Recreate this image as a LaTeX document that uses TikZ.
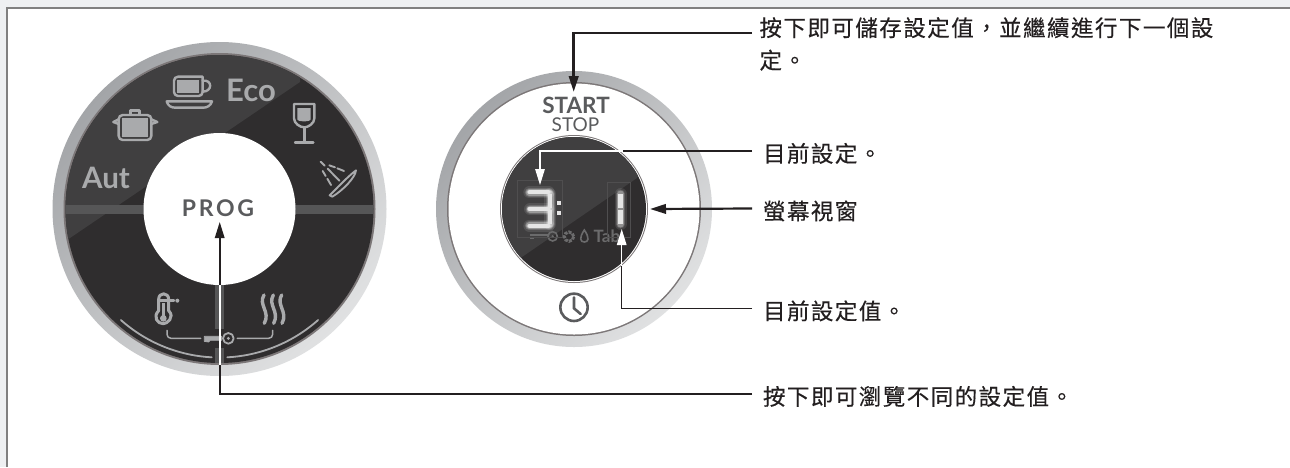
\documentclass[tikz,border=0pt]{standalone}
\usepackage{fontspec}
\usepackage{xcolor}
\usetikzlibrary{arrows.meta}
\newfontfamily\cjkfont[LetterSpace=6.5,FakeBold=0.25]{Noto Sans CJK TC}
\newfontfamily\dialfont{Lato}
\newfontfamily\progfont[LetterSpace=12]{Lato}
\definecolor{inkblack}{HTML}{231F20}
\definecolor{dialdark}{HTML}{2F2D2E}
\definecolor{dialglare}{HTML}{403F40}
\definecolor{dialband}{HTML}{565657}
\definecolor{iconGray}{HTML}{A9AAAC}
\definecolor{printGray}{HTML}{5A5B5D}
\definecolor{faintGray}{HTML}{6B6B6C}
\definecolor{ringDark}{HTML}{A3A5A8}
\definecolor{ringLight}{HTML}{E0E1E2}
\definecolor{ringEdge}{HTML}{7C7778}
\definecolor{pageBand}{HTML}{EEF0F2}
\tikzset{
  note/.style={anchor=west,inner sep=0pt,outer xsep=11pt,font=\cjkfont\fontsize{22.5}{32.5}\selectfont,text=inkblack},
  onerow/.style={text height=26pt,text depth=4pt},
  icon/.style={draw=iconGray,line width=2.4pt,line cap=round,line join=round},
  fainticon/.style={draw=faintGray,line width=1.6pt},
  leader/.style={draw=inkblack,line width=#1},
  tip/.style={-{Triangle[length=16pt,width=9.5pt]}},
}
\begin{document}
\begin{tikzpicture}[x=1pt,y=1pt,yscale=-1]
  \def\xl{219.5}
  \def\xr{574}
  \def\yc{209}
  \useasboundingbox (0,0) rectangle (1290,467);
  \fill[white] (0,0) rectangle (1290,467);
  % page edge
  \fill[pageBand] (0,0) rectangle (1290,7);
  \fill[pageBand] (0,0) rectangle (6,467);
  \draw[gray,line width=2pt] (7,467) -- (7,8) -- (1290,8);

  % left dial
  \shade[top color=ringDark,bottom color=ringLight,shading angle=45] (\xl,\yc) circle (167);
  \fill[ringEdge] (\xl,\yc) circle (156);
  \fill[dialdark] (\xl,\yc) circle (154);
  \begin{scope}
    \clip (\xl,\yc) circle (154);
    \fill[dialglare] (70,238) -- (300,82) -- (300,40) -- (40,40) -- (40,258) -- cycle;
    \fill[dialband] (60,205) rectangle (380,213.5);
    \fill[dialband] (215,280) rectangle (224,329);
    \fill[dialband] (215,348) rectangle (224,363);
  \end{scope}
  \fill[white] (\xl,\yc) circle (76);
  \draw[icon,line width=1.8pt] ({\xl+148.5*cos(131.6)},{\yc+148.5*sin(131.6)}) arc (131.6:93:148.5);
  \draw[icon,line width=1.8pt] ({\xl+148.5*cos(87)},{\yc+148.5*sin(87)}) arc (87:48.4:148.5);

  \node[text=iconGray,font=\dialfont\bfseries\fontsize{29.5}{28}\selectfont,inner sep=0pt] (autlabel) at (106,178) {Aut};
  \node[text=iconGray,font=\dialfont\bfseries\fontsize{31}{28}\selectfont,inner sep=0pt] (ecolabel) at (251,90) {Eco};
  \node[text=printGray,font=\progfont\bfseries\fontsize{23}{23}\selectfont,inner sep=0pt] (proglabel) at (218,208.5) {PROG};

  % icons, traced on the 3x grid
  \begin{scope}[shift={(30,40)},scale=1/3]
    % cup
    \fill[iconGray] (442,120) rectangle (508,158);
    \draw[icon] (432,110) -- (518,110) -- (518,155) [rounded corners=4pt] -- (518,168) -- (432,168) -- cycle;
    \draw[icon] (518,122) .. controls (548,118) and (548,155) .. (518,155);
    \draw[icon] (410,184) -- (546,184) .. controls (542,198) and (530,203) .. (520,203) -- (436,203) .. controls (424,203) and (414,198) .. cycle;
    % pot
    \fill[iconGray] (275,235) rectangle (355,292);
    \draw[icon,rounded corners=4pt] (266,225) rectangle (364,300);
    \draw[icon] (266,238) -- (250,246) -- (266,252);
    \draw[icon] (364,238) -- (382,246) -- (364,252);
    \draw[icon] (302,222) -- (302,211) -- (328,211) -- (328,222);
  \end{scope}
  \begin{scope}[shift={(280,90)},scale=1/3]
    % glass
    \fill[iconGray] (52,54) -- (92,54) -- (92,88) .. controls (92,96) and (52,96) .. (52,88) -- cycle;
    \draw[icon] (42,42) -- (103,42) -- (103,85) .. controls (103,100) and (85,112) .. (73,112) .. controls (60,112) and (42,100) .. (42,85) -- cycle;
    \draw[icon] (73,112) -- (73,157);
    \draw[icon] (45,157) -- (100,157);
    % spray
    \draw[icon,line width=1.9pt] (228,241) .. controls (226,262) and (190,300) .. (157,320) -- (149,316) .. controls (165,300) and (205,258) .. cycle;
    \draw[icon,line width=1.9pt] (148,226) -- (165,232);
    \draw[icon,line width=1.9pt] (172,235) -- (192,243);
    \draw[icon,line width=1.9pt] (122,215) -- (134,227);
    \draw[icon,line width=1.9pt] (143,236) -- (178,272);
    \draw[icon,line width=1.9pt] (128,243) -- (137,258);
    \draw[icon,line width=1.9pt] (142,266) -- (153,285);
  \end{scope}
  \begin{scope}[shift={(100,270)},scale=1/3]
    % thermometer
    \draw[icon,line width=3pt] (176,122) -- (176,88) .. controls (176,66) and (206,66) .. (206,88) -- (206,122);
    \draw[icon,line width=3pt] (206,122) .. controls (226,142) and (200,162) .. (190,161) .. controls (172,162) and (158,140) .. (176,122);
    \fill[iconGray] (190,145) circle (10);
    \fill[iconGray] (186,100) rectangle (196,140);
    \draw[icon] (178,92) -- (222,92);
    \fill[iconGray] (232,92) circle (6);
    % steam
    \foreach \xs in {492,520,545}{
      \draw[icon,line width=3.4pt] (\xs,75) .. controls (\xs-18,105) and (\xs+20,125) .. (\xs+1,160);
    }
    % key and brackets
    \draw[icon,line width=1.5pt,rounded corners=4pt] (201,181) -- (201,205) -- (302,205);
    \draw[icon,line width=1.5pt,rounded corners=4pt] (412,205) -- (518,205) -- (518,181);
    \draw[icon,line width=.8pt,fill=iconGray] (313,199) -- (365,199) -- (365,211) -- (330,211) -- (326,216) -- (313,214) -- cycle;
    \draw[icon,line width=1.8pt] (385,205) circle (16);
    \fill[iconGray] (385,205) circle (5);
  \end{scope}

  % right dial
  \shade[top color=ringDark,bottom color=ringLight,shading angle=45] (\xr,\yc) circle (138);
  \fill[ringEdge] (\xr,\yc) circle (127);
  \fill[white] (\xr,\yc) circle (125.5);
  \fill[ringEdge] (\xr,\yc) circle (74);
  \fill[white] (\xr,\yc) circle (73);
  \fill[dialdark] (\xr,\yc) circle (72);
  \begin{scope}
    \clip (\xr,\yc) circle (72);
    \fill[dialglare] (522,257) -- (637,178) -- (660,130) -- (490,130) -- (490,280) -- cycle;
  \end{scope}
  \node[text=printGray,font=\dialfont\bfseries\fontsize{22.5}{22}\selectfont,inner sep=0pt] (startlabel) at (576,105) {START};
  \node[text=printGray,font=\dialfont\fontsize{19}{18}\selectfont,inner sep=0pt] (stoplabel) at (575.5,125) {STOP};
  \begin{scope}[shift={(430,40)},scale=1/3]
    % clock
    \draw[draw=printGray,line width=2.6pt] (432,802) circle (41);
    \draw[draw=printGray,line width=2.6pt,line cap=round] (432,772) -- (432,805) -- (452,822);
    % faint symbols below the digits
    \draw[fainticon] (300,585) -- (355,585);
    \draw[fainticon] (300,595) -- (312,595);
    \draw[fainticon] (368,589) circle (14);
    \fill[faintGray] (368,589) circle (4);
    \draw[fainticon,line width=3pt,dash pattern=on 3pt off 1.2pt] (417,590) circle (14);
    \draw[fainticon] (463,570) .. controls (480,595) and (475,606) .. (463,606) .. controls (451,606) and (446,595) .. cycle;
    \node[text=faintGray,font=\dialfont\bfseries\fontsize{17}{17}\selectfont,anchor=west,inner sep=0pt] (tablabel) at (490,590) {Tab};
  \end{scope}
  \begin{scope}[shift={(490,130)},scale=1/3]
    % faint cells behind the digits
    \draw[dialglare!92!white,line width=.3pt] (80,150) rectangle (215,322);
    \draw[dialglare!92!white,line width=.3pt] (352,155) rectangle (420,322);
    % lit digits
    \foreach \w/\o in {12/.10,9/.16,7/.30}{
      \draw[white,opacity=\o,line width=\w pt,line cap=round] (118,187) -- (176,187);
      \draw[white,opacity=\o,line width=\w pt,line cap=round] (120,237) -- (176,237);
      \draw[white,opacity=\o,line width=\w pt,line cap=round] (118,287) -- (176,287);
      \draw[white,opacity=\o,line width=\w pt,line cap=round] (180,192) -- (180,282);
      \draw[white,opacity=\o,line width=\w pt,line cap=round] (392,192) -- (392,282);
    }
    \foreach \ys in {187,237,287}{
      \draw[black!10,line width=4pt,line cap=round] (118,\ys) -- (176,\ys);
    }
    \draw[black!10,line width=4.4pt] (180,192) -- (180,233);
    \draw[black!10,line width=4.4pt] (180,241) -- (180,282);
    \draw[black!10,line width=5pt] (392,192) -- (392,233);
    \draw[black!10,line width=5pt] (392,241) -- (392,282);
    \fill[black!10] (200,213) rectangle (214,226);
    \fill[black!10] (200,243) rectangle (214,256);
  \end{scope}

  % notes
  \node[note,anchor=north west,align=left] (savetxt) at (748.5,17) {按下即可儲存設定值\symbol{"FF0C}並繼續進行下一個設\\定。};
  \node[note,onerow] (curtxt) at (752,151) {目前設定。};
  \node[note,onerow] (screentxt) at (752,208.5) {螢幕視窗};
  \node[note,onerow] (valtxt) at (752,308.5) {目前設定值。};
  \node[note,onerow] (browsetxt) at (752,394) {按下即可瀏覽不同的設定值。};

  \coordinate (saveend) at (752,33);
  \coordinate (savetip) at (573.7,92);
  \coordinate (curbreak) at (623,151);
  \coordinate (curtip) at (540,185);
  \coordinate (screentip) at (650,209);
  \coordinate (valbreak) at (621.7,266);
  \coordinate (valtip) at (621.7,229);
  \coordinate (progbreak) at (219.7,365);
  \coordinate (progtip) at (219.7,222);
  \coordinate (progstart) at (219.7,285);

  % connectors
  \draw[leader=2.6pt,tip] (saveend) -| (savetip);
  \draw[leader=2.2pt] (curtxt.west) -- (curbreak);
  \draw[draw=white,line width=1.4pt,tip] (curbreak) -| (curtip);
  \draw[leader=2.2pt,tip] (screentxt.west) -- (screentip);
  \draw[leader=1.4pt] (valtxt.west) -| (valbreak);
  \draw[draw=white,line width=1.4pt,tip] (valbreak) -- (valtip);
  \draw[leader=1.6pt] (browsetxt.west) -| (progbreak);
  \draw[draw=white,line width=1.6pt] (progbreak) -- (progstart);
  \draw[leader=1.6pt,tip] (progstart) -- (progtip);
\end{tikzpicture}
\end{document}
